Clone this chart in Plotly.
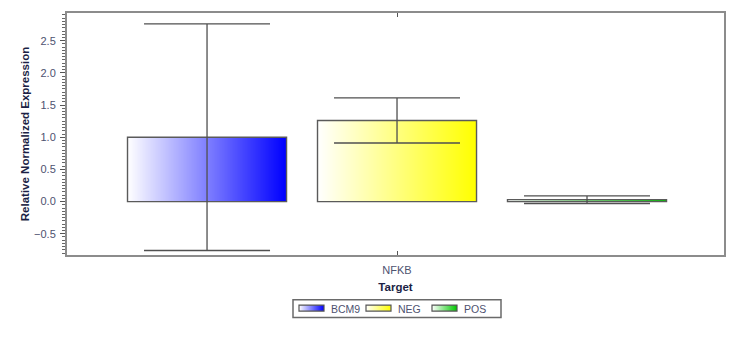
import base64
import struct
import zlib

import plotly.graph_objects as go

# Data
categories = ["NFKB"]
samples = ["BCM9", "NEG", "POS"]
values = [1.0, 1.26, 0.03]
errors = [1.76, 0.35, 0.06]
colors = [(0, 0, 255), (255, 255, 0), (0, 200, 0)]

FONT = "Arial, Liberation Sans, sans-serif"
TEXT_COLOR = "#4e5270"
TITLE_COLOR = "#1c1f45"
FRAME = "#8c8c8c"
OUTLINE = "#5a5a5a"

BAR_WIDTH = 0.837


def gradient_png(rgb, n=256, rows=4):
    """Horizontal white -> rgb gradient, returned as a PNG data URI."""
    row = bytearray([0])
    for i in range(n):
        t = i / (n - 1)
        for c in rgb:
            row.append(round(255 + (c - 255) * t))
    raw = bytes(row) * rows

    def chunk(tag, data):
        return (struct.pack(">I", len(data)) + tag + data
                + struct.pack(">I", zlib.crc32(tag + data) & 0xFFFFFFFF))

    png = (b"\x89PNG\r\n\x1a\n"
           + chunk(b"IHDR", struct.pack(">IIBBBBB", n, rows, 8, 2, 0, 0, 0))
           + chunk(b"IDAT", zlib.compress(raw))
           + chunk(b"IEND", b""))
    return "data:image/png;base64," + base64.b64encode(png).decode()


fig = go.Figure()
images = []
offsets = [i - (len(samples) - 1) / 2 for i in range(len(samples))]

for name, val, err, rgb, off in zip(samples, values, errors, colors, offsets):
    fig.add_trace(go.Bar(
        name=name,
        x=[off],
        y=[val],
        width=[BAR_WIDTH],
        marker=dict(color="rgba(0,0,0,0)", line=dict(color=OUTLINE, width=1.4)),
        error_y=dict(type="data", array=[err], color="#505050",
                     thickness=1.3, width=63),
        showlegend=False,
        hoverinfo="skip",
    ))
    # gradient fill of the bar, stretched over its extent
    images.append(dict(
        source=gradient_png(rgb),
        xref="x", yref="y",
        x=off - BAR_WIDTH / 2, y=max(val, 0),
        sizex=BAR_WIDTH, sizey=abs(val),
        xanchor="left", yanchor="top",
        sizing="stretch", layer="below",
    ))

# Legend drawn below the axis title
L, T = 67, 11
PW, PH = 657, 244


def px(xp):
    return (xp - L) / PW


def py(yp):
    return (T + PH - yp) / PH


shapes = [dict(type="rect", xref="paper", yref="paper",
               x0=px(293), x1=px(501), y0=py(300), y1=py(318),
               line=dict(color="#6a6a6a", width=1.5), fillcolor="white",
               layer="below")]
annotations = []
swatch_x = [299, 366, 432]
for name, rgb, sx in zip(samples, colors, swatch_x):
    images.append(dict(
        source=gradient_png(rgb),
        xref="paper", yref="paper",
        x=px(sx), y=py(305.5), sizex=25 / PW, sizey=6 / PH,
        xanchor="left", yanchor="top", sizing="stretch", layer="above",
    ))
    shapes.append(dict(type="rect", xref="paper", yref="paper",
                       x0=px(sx), x1=px(sx + 25), y0=py(305.5), y1=py(311.5),
                       line=dict(color="#555555", width=1.2)))
    annotations.append(dict(
        text=name, xref="paper", yref="paper",
        x=px(sx + 30), y=py(309), xanchor="left", yanchor="middle",
        showarrow=False, font=dict(family=FONT, size=10.5, color=TEXT_COLOR),
    ))

fig.update_layout(
    width=746, height=339,
    margin=dict(l=L, r=746 - L - PW, t=T, b=339 - T - PH),
    paper_bgcolor="white",
    plot_bgcolor="rgba(0,0,0,0)",
    barmode="overlay",
    images=images,
    shapes=shapes,
    annotations=annotations,
    font=dict(family=FONT, size=11, color=TEXT_COLOR),
    xaxis=dict(
        range=[-1.737, 1.721],
        tickvals=[0], ticktext=categories,
        ticks="inside", ticklen=4, tickcolor="#555555",
        ticklabelstandoff=4,
        showline=True, linecolor=FRAME, linewidth=2, mirror="ticks",
        showgrid=False, zeroline=False,
        tickfont=dict(size=11, color=TEXT_COLOR),
        title=dict(text="<b>Target</b>", standoff=8,
                   font=dict(size=11.5, color=TITLE_COLOR)),
    ),
    yaxis=dict(
        range=[-0.83, 2.93],
        dtick=0.5, tick0=0, tickformat=".1f",
        ticks="outside", ticklen=5, tickcolor="#555555",
        ticklabelstandoff=2,
        minor=dict(dtick=0.05, tick0=0, ticks="outside", ticklen=3,
                   tickcolor="#666666"),
        showline=True, linecolor=FRAME, linewidth=2, mirror=True,
        showgrid=False, zeroline=False,
        tickfont=dict(size=11, color=TEXT_COLOR),
        title=dict(text="<b>Relative Normalized Expression</b>", standoff=2,
                   font=dict(size=11.5, color=TITLE_COLOR)),
    ),
    yaxis2=dict(
        overlaying="y", matches="y", side="right",
        range=[-0.83, 2.93], dtick=0.5, tick0=0,
        ticks="inside", ticklen=5, tickcolor="#555555",
        minor=dict(dtick=0.05, tick0=0, ticks="inside", ticklen=3,
                   tickcolor="#666666"),
        showticklabels=False, showline=False, showgrid=False, zeroline=False,
    ),
)

fig.write_html("out.html")
